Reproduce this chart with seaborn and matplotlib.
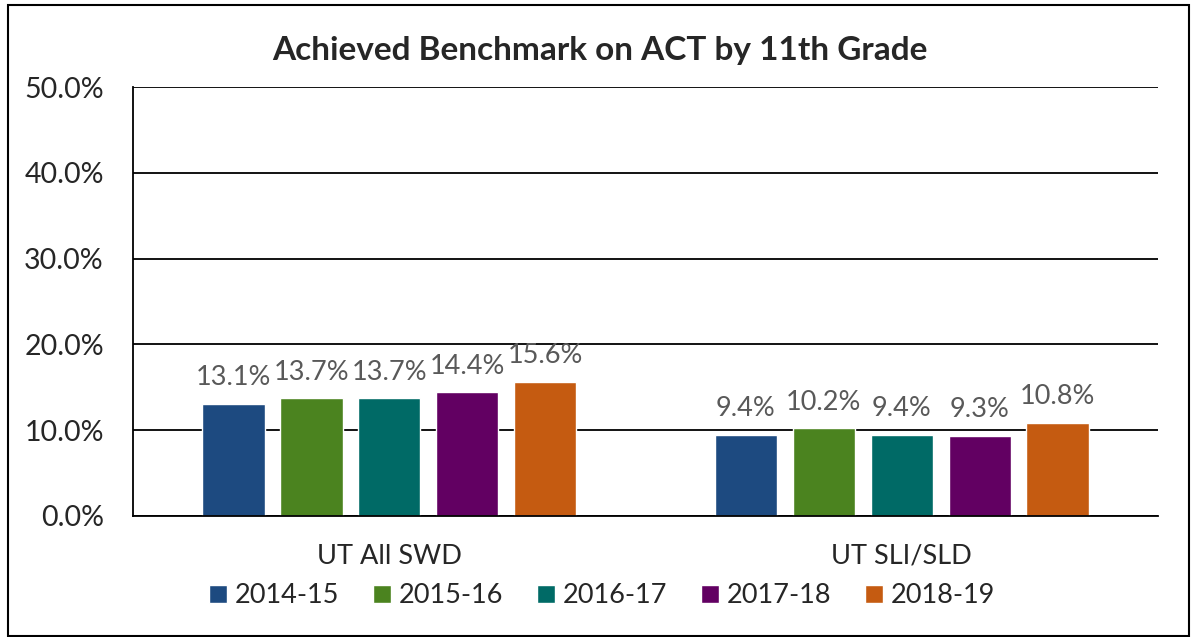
import pandas as pd
import seaborn as sns
import matplotlib.pyplot as plt
from matplotlib.patches import Rectangle
from matplotlib.ticker import PercentFormatter

# chart data
groups = ['UT All SWD', 'UT SLI/SLD']
years = ['2014-15', '2015-16', '2016-17', '2017-18', '2018-19']
all_swd = [13.1, 13.7, 13.7, 14.4, 15.6]
sli_sld = [9.4, 10.2, 9.4, 9.3, 10.8]
colors = ['#1d4a80', '#4b831f', '#006a66', '#620062', '#c55b11']

rows = []
for i, y in enumerate(years):
    rows.append({'Group': groups[0], 'Year': y, 'Value': all_swd[i]})
    rows.append({'Group': groups[1], 'Year': y, 'Value': sli_sld[i]})
df = pd.DataFrame(rows)

sns.set_style('white')
plt.rcParams['font.family'] = ['Lato', 'DejaVu Sans']

fig = plt.figure(figsize=(11.93, 6.37), dpi=100)
ax = fig.add_axes([0.1115, 0.19, 0.8592, 0.6734])

sns.barplot(data=df, x='Group', y='Value', hue='Year', order=groups,
            hue_order=years, palette=colors, width=0.76, gap=0.2,
            saturation=1, ax=ax, legend=True)

ax.set_ylim(0, 50)
ax.set_yticks([0, 10, 20, 30, 40, 50])
ax.yaxis.set_major_formatter(PercentFormatter(decimals=1))
ax.set_xlim(-0.5, 1.5)
ax.grid(axis='y', color='black', linewidth=1.3)
ax.set_axisbelow(True)
for s in ['top', 'right']:
    ax.spines[s].set_visible(False)
ax.spines['left'].set_color('black')
ax.spines['left'].set_linewidth(1.3)
ax.spines['bottom'].set_color('black')
ax.spines['bottom'].set_linewidth(1.3)
ax.tick_params(axis='y', labelsize=20.5, length=0, pad=21)
ax.tick_params(axis='x', labelsize=19.5, length=0, pad=20)
ax.set_xlabel('')
ax.set_ylabel('')

for cont in ax.containers:
    ax.bar_label(cont, fmt='%.1f%%', padding=10, fontsize=19.5, color='#595959')

ax.get_legend().remove()
handles, labels = ax.get_legend_handles_labels()
fig.legend(handles, labels, loc='center', bbox_to_anchor=(0.505, 0.065),
           ncol=5, frameon=False, fontsize=19.5, handlelength=0.65,
           handleheight=0.65, handletextpad=0.3, columnspacing=1.25)

fig.text(0.503, 0.921, 'Achieved Benchmark on ACT by 11th Grade',
         ha='center', va='center', fontsize=24, fontweight='bold')

fig.patches.append(Rectangle((0.007, 0.002), 0.99, 0.99, transform=fig.transFigure,
                             fill=False, edgecolor='black', linewidth=1.5))

fig.savefig('out.png', dpi=100)
